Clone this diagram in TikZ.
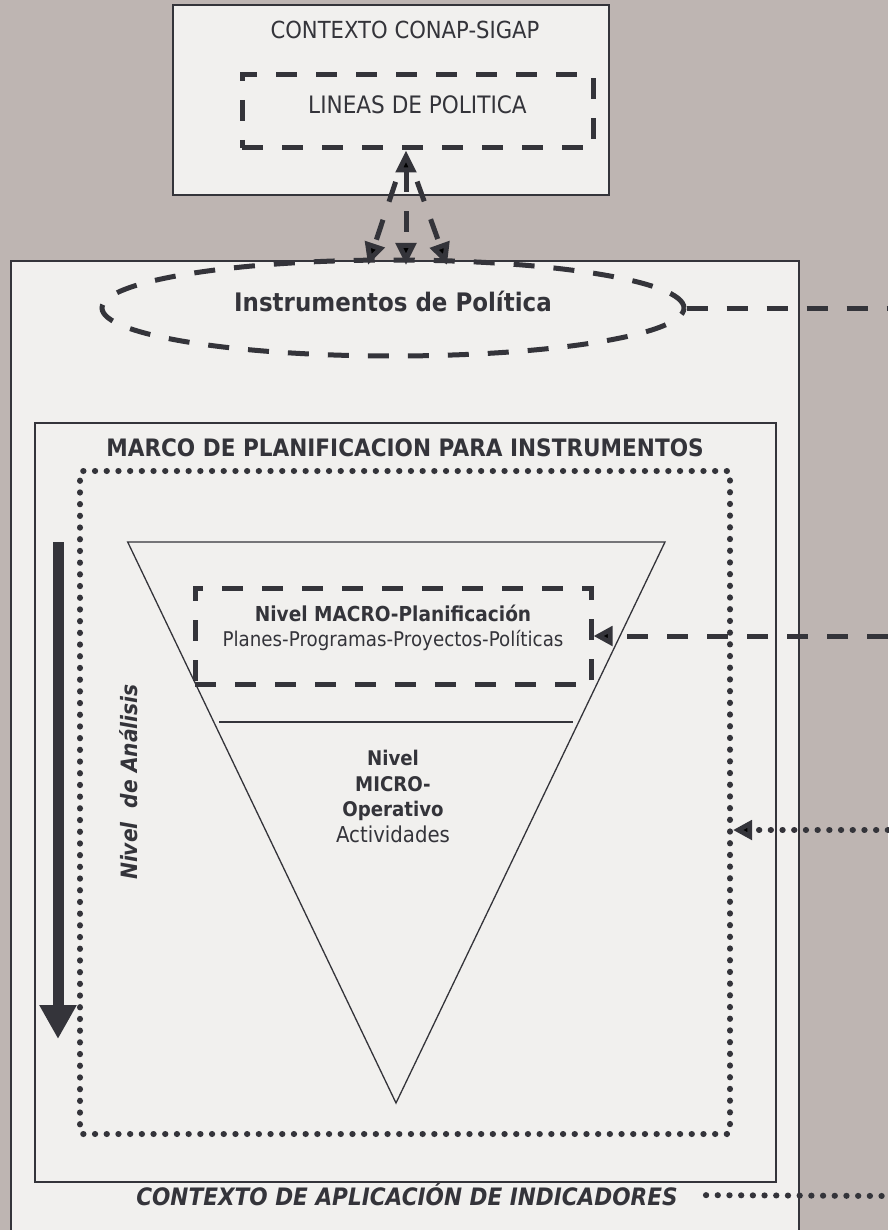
\documentclass[tikz,border=0pt]{standalone}
\usepackage{fontspec}
\setmainfont[FakeStretch=0.9]{DejaVu Sans}
\usetikzlibrary{arrows.meta,shapes.geometric}
\definecolor{fondo}{HTML}{BEB5B2}
\definecolor{papel}{HTML}{F1F0EE}
\definecolor{tinta}{HTML}{34343A}

\begin{document}
\begin{tikzpicture}[x=1pt,y=-1pt,
	caja/.style={draw=tinta,line width=1.5pt,fill=papel},
	guion/.style={draw=tinta,line width=5pt,dash pattern=on 21pt off 19pt},
	puntos/.style={draw=tinta,line width=6pt,line cap=round,dash pattern=on 0.3pt off 11.4pt},
	punta/.style={-{Triangle[length=19pt,width=19pt]}},
	texto/.style={text=tinta,inner sep=0pt}]
			\path[use as bounding box,fill=fondo] (0,0) rectangle (888,1230);
			% contexto superior
			\draw (391,100) node [caja,minimum width=436pt,minimum height=190pt] (conap) {};
			\draw (405,30) node [texto,font=\fontsize{23.5}{28}\selectfont] (conaptit) {CONTEXTO CONAP-SIGAP};
			\draw (417.5,111.5) node [guion,minimum width=351pt,minimum height=73pt] (lineas) {};
			\draw (417.5,105) node [texto,font=\fontsize{24}{28}\selectfont] (lineastit) {LINEAS DE POLITICA};
			% marco exterior
			\draw (405,756) node [caja,minimum width=788pt,minimum height=990pt] (exterior) {};
			\draw (393,308) node [ellipse,guion,inner sep=0pt,minimum width=582pt,minimum height=96pt] (instr) {};
			\draw (393,301) node [texto,font=\bfseries\fontsize{25.5}{30}\selectfont] (instrtit) {Instrumentos de Política};
			% marco de planificacion
			\draw (405.5,802.5) node [caja,minimum width=741pt,minimum height=759pt] (marco) {};
			\draw (405,448) node [texto,font=\bfseries\fontsize{24}{28}\selectfont] (marcotit) {MARCO DE PLANIFICACION PARA INSTRUMENTOS};
			\draw (405,802.5) node [puntos,rounded corners=3pt,minimum width=650pt,minimum height=663pt] (marcodot) {};
			% triangulo
			\draw[tinta,line width=1.3pt] (127.7,542) -- (665,542) -- (396,1103) -- cycle;
			\draw[tinta,line width=1.3pt] (219,722) -- (573,722);
			\draw (393,636) node [guion,minimum width=396pt,minimum height=96pt] (macro) {};
			\draw (393,627.5) node [texto,align=center,font=\fontsize{20.3}{25}\selectfont] (macrotit) {{\bfseries\fontsize{20.6}{25}\selectfont Nivel MACRO-Planificación}\\Planes-Programas-Proyectos-Políticas};
			\draw (393,796.5) node [texto,align=center,font=\fontsize{20.2}{25.5}\selectfont] (micro) {\bfseries Nivel\\\bfseries MICRO-\\\bfseries Operativo\\\fontsize{21.9}{26.5}\selectfont Actividades};
			% nivel de analisis
			\coordinate (flechaA) at (58,542);
			\coordinate (flechaB) at (58,1039);
			\draw[tinta,line width=11pt,-{Triangle[length=34pt,width=35pt]}] (flechaA) -- (flechaB);
			\draw (129,782) node [texto,rotate=90,font=\bfseries\itshape\fontsize{22.5}{26}\selectfont] (analisis) {Nivel\ \ de Análisis};
			\draw (407,1195) node [texto,font=\bfseries\itshape\fontsize{24}{28}\selectfont] (aplic) {CONTEXTO DE APLICACIÓN DE INDICADORES};
			% conectores
			\coordinate (ladoA) at (888,308);
			\coordinate (ladoB) at (888,636);
			\coordinate (ladoC) at (888,830);
			\coordinate (ladoD) at (888,1196);
			\coordinate (bajaL) at (368,265);
			\coordinate (bajaC) at (406,265);
			\coordinate (bajaR) at (447,265);
			\path[guion]
				(lineas.south -| bajaC) edge [{Triangle[length=22pt,width=20pt]}-{Triangle[length=22pt,width=20pt]}] (bajaC)
					edge [-{Triangle[length=22pt,width=20pt]},shorten <=33pt] (bajaL)
					edge [-{Triangle[length=22pt,width=20pt]},shorten <=33pt] (bajaR)
				(instr.east) edge (ladoA)
				(ladoB) edge [punta] (macro.east);
			\path[puntos]
				(ladoC) edge [punta] (ladoC -| marcodot.east)
				(aplic.east) edge [shorten <=28pt] (ladoD);
		\end{tikzpicture}
\end{document}
